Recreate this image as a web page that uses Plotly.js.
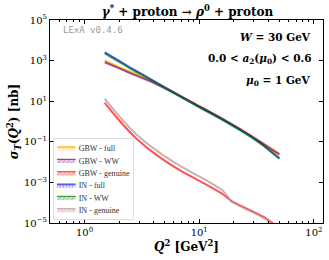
<!DOCTYPE html>
<html><head><meta charset="utf-8">
<script src="https://cdn.plot.ly/plotly-3.0.1.min.js"></script>
<style>html,body{margin:0;padding:0;background:#fff}#c{width:329px;height:260px}</style>
</head><body><div id="c"></div>
<script>
// Q^2 [GeV^2] grid for the upper (full / WW) curves
const q2Upper = [1.5, 2.5, 4, 6.3, 10, 16, 25, 35.5, 50];
const gbwFull = [1000, 275, 89.1, 24.0, 5.89, 1.38, 0.316, 0.0912, 0.0263];
const gbwWW   = [832, 240, 81.3, 22.4, 5.50, 1.29, 0.295, 0.0832, 0.0234];
const inFull  = [2570, 457, 100, 22.9, 5.37, 1.26, 0.282, 0.0741, 0.0155];
const inWW    = [2240, 407, 93.3, 21.4, 5.01, 1.17, 0.263, 0.0692, 0.0145];
// Q^2 grid for the genuine curves
const q2Gen = [1.5, 2.0, 2.81, 4.32, 6.87, 10.9, 15.8, 17.8, 19.1, 36.1, 50];
const gbwGen = [8.32, 1.15, 0.151, 0.0209, 0.00380, 9.12e-4, 2.75e-4, 1.66e-4, 1.20e-4, 2.04e-5, 5.62e-6];
const inGen  = [13.2, 1.82, 0.245, 0.0347, 0.00631, 1.51e-3, 4.17e-4, 1.91e-4, 1.15e-4, 1.82e-5, 5.01e-6];

const names = ['GBW - full', 'GBW - WW', 'GBW - genuine', 'IN - full', 'IN - WW', 'IN - genuine'];
const xTickVals = [1, 10, 100];
const xTickText = ['10<sup>0</sup>', '10<sup>1</sup>', '10<sup>2</sup>'];
const yTickVals = [1e-5, 1e-3, 1e-1, 1e1, 1e3, 1e5];
const yTickText = ['10<sup>−5</sup>', '10<sup>−3</sup>', '10<sup>−1</sup>', '10<sup>1</sup>', '10<sup>3</sup>', '10<sup>5</sup>'];

const series = [
  {x: q2Upper, y: gbwFull, line: 'rgba(255,165,0,0.85)', fill: 'rgba(255,190,60,0.45)', shape: '.'},
  {x: q2Upper, y: gbwWW,   line: 'rgba(128,0,128,0.7)',  fill: 'rgba(160,60,160,0.45)', shape: '/'},
  {x: q2Gen,   y: gbwGen,  line: 'rgba(255,40,40,0.8)', fill: 'rgba(255,80,80,0.5)', shape: 'x'},
  {x: q2Upper, y: inFull,  line: 'rgba(0,0,255,0.7)',    fill: 'rgba(70,70,255,0.5)', shape: '.'},
  {x: q2Upper, y: inWW,    line: 'rgba(0,128,0,0.7)',    fill: 'rgba(60,150,60,0.45)', shape: '/'},
  {x: q2Gen,   y: inGen,   line: 'rgba(188,143,143,0.7)', fill: 'rgba(200,160,160,0.45)', shape: 'x'}
];

const traces = series.map((s, i) => ({
  type: 'scatter', mode: 'lines', name: names[i],
  x: s.x.concat(s.x.slice(0, -1).reverse()),
  y: s.y.concat(s.y.slice(0, -1).reverse()),
  fill: 'toself', fillcolor: s.fill,
  fillpattern: {shape: s.shape, fgcolor: 'rgba(255,255,255,0.9)', bgcolor: s.fill, size: 5, solidity: 0.3},
  line: {color: s.line, width: 2, shape: 'spline', smoothing: 0.6},
  hoverinfo: 'skip'
}));

const serif = 'DejaVu Serif, serif';
const layout = {
  width: 329, height: 260,
  margin: {l: 50, r: 6, t: 20, b: 37},
  paper_bgcolor: '#fff', plot_bgcolor: '#fff',
  showlegend: true,
  title: {text: '<b><i>γ</i><sup>*</sup> + proton → <i>ρ</i><sup>0</sup> + proton</b>',
          font: {family: serif, size: 12, color: '#000'}, x: 0.57, xanchor: 'center', y: 0.955, yanchor: 'middle'},
  xaxis: {type: 'log', range: [Math.log10(0.5), Math.log10(120)],
          title: {text: '<b><i>Q</i><sup>2</sup> [GeV<sup>2</sup>]</b>', font: {family: serif, size: 12, color: '#000'}, standoff: 4},
          tickvals: xTickVals, ticktext: xTickText, tickfont: {family: serif, size: 10, color: '#000'},
          ticks: 'inside', ticklen: 4, tickcolor: '#000', showline: true, linecolor: '#000', linewidth: 1,
          mirror: 'ticks', showgrid: false, zeroline: false,
          minor: {ticks: 'inside', ticklen: 2, tickcolor: '#000', dtick: 'D1', showgrid: false}},
  yaxis: {type: 'log', range: [-5, 5],
          title: {text: '<b><i>σ</i><sub><i>T</i></sub>(<i>Q</i><sup>2</sup>) [nb]</b>', font: {family: serif, size: 12, color: '#000'}, standoff: 2},
          tickvals: yTickVals, ticktext: yTickText, tickfont: {family: serif, size: 10, color: '#000'},
          ticks: 'inside', ticklen: 4, tickcolor: '#000', showline: true, linecolor: '#000', linewidth: 1,
          mirror: 'ticks', showgrid: false, zeroline: false},
  legend: {x: 0.012, y: 0.012, xanchor: 'left', yanchor: 'bottom',
           bgcolor: 'rgba(255,255,255,0.85)', bordercolor: '#ccc', borderwidth: 1,
           font: {family: 'Liberation Serif, serif', size: 13, color: '#333'},
           itemwidth: 30, tracegroupgap: 0, traceorder: 'normal'},
  annotations: [
    {xref: 'paper', yref: 'paper', x: 0.04, y: 0.95, xanchor: 'left', yanchor: 'middle', showarrow: false,
     text: 'LExA v0.4.6', font: {family: 'DejaVu Sans Mono, monospace', size: 9, color: '#999'}},
    {xref: 'paper', yref: 'paper', x: 0.965, y: 0.915, xanchor: 'right', yanchor: 'middle', showarrow: false,
     text: '<b><i>W</i> = 30 GeV</b>', font: {family: serif, size: 10.5, color: '#000'}},
    {xref: 'paper', yref: 'paper', x: 0.965, y: 0.81, xanchor: 'right', yanchor: 'middle', showarrow: false,
     text: '<b>0.0 &lt; <i>a</i><sub>2</sub>(<i>μ</i><sub>0</sub>) &lt; 0.6</b>', font: {family: serif, size: 10.5, color: '#000'}},
    {xref: 'paper', yref: 'paper', x: 0.965, y: 0.70, xanchor: 'right', yanchor: 'middle', showarrow: false,
     text: '<b><i>μ</i><sub>0</sub> = 1 GeV</b>', font: {family: serif, size: 10.5, color: '#000'}}
  ]
};
const gd = document.getElementById('c');
Plotly.newPlot(gd, traces, layout, {staticPlot: true, displayModeBar: false}).then(() => {
  const lg = gd.querySelector('g.legend');
  if (!lg) return;
  const bg = lg.querySelector('rect.bg');
  const h = bg ? bg.getBBox().height : 0;
  const m = /translate\(\s*([-\d.]+)[ ,]+([-\d.]+)\s*\)/.exec(lg.getAttribute('transform') || '');
  if (!m) return;
  const s = 0.62;
  const tx = parseFloat(m[1]), ty = parseFloat(m[2]);
  lg.setAttribute('transform', 'translate(' + tx + ',' + (ty + h * (1 - s)) + ') scale(' + s + ')');
});
</script></body></html>
